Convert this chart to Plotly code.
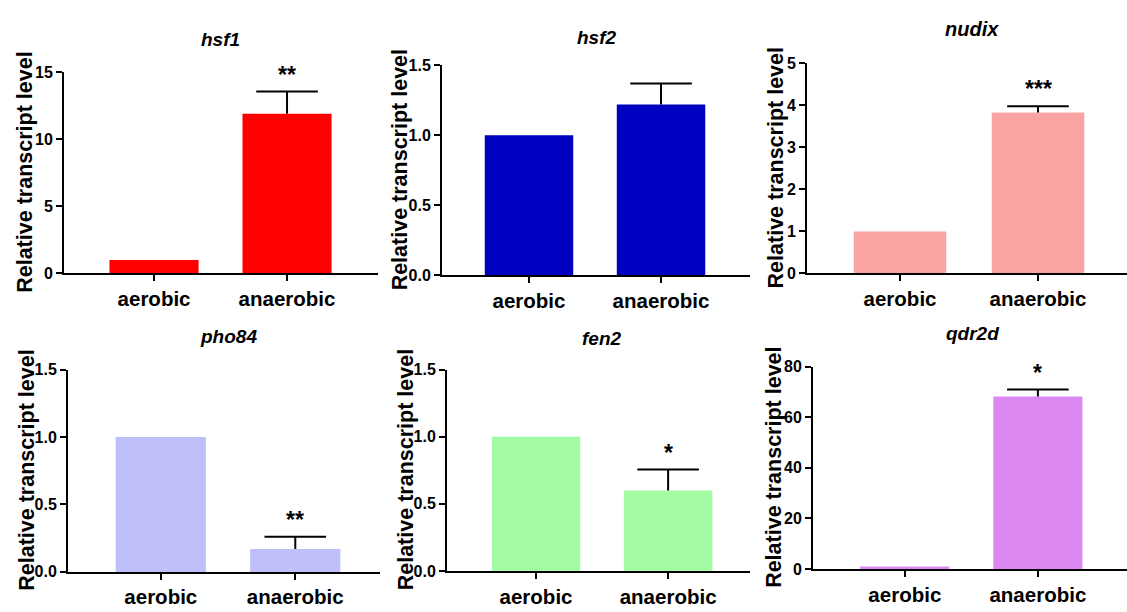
import plotly.graph_objects as go

W, H = 1127, 612

# ---------------- data ----------------
categories = ["aerobic", "anaerobic"]
genes = ["hsf1", "hsf2", "nudix", "pho84", "fen2", "qdr2d"]

hsf1_mean = [1.0, 11.9]
hsf1_err = [0.0, 1.65]
hsf2_mean = [1.0, 1.22]
hsf2_err = [0.0, 0.15]
nudix_mean = [1.0, 3.83]
nudix_err = [0.0, 0.15]
pho84_mean = [1.0, 0.17]
pho84_err = [0.0, 0.09]
fen2_mean = [1.0, 0.60]
fen2_err = [0.0, 0.155]
qdr2d_mean = [1.0, 68.2]
qdr2d_err = [0.0, 2.8]

significance = ["**", "", "***", "**", "*", "*"]

hsf1_ticks = [0, 5, 10, 15]
hsf2_ticks = [0, 0.5, 1.0, 1.5]
nudix_ticks = [0, 1, 2, 3, 4, 5]
pho84_ticks = [0, 0.5, 1.0, 1.5]
fen2_ticks = [0, 0.5, 1.0, 1.5]
qdr2d_ticks = [0, 20, 40, 60, 80]

means = [hsf1_mean, hsf2_mean, nudix_mean, pho84_mean, fen2_mean, qdr2d_mean]
errs = [hsf1_err, hsf2_err, nudix_err, pho84_err, fen2_err, qdr2d_err]
ticks = [hsf1_ticks, hsf2_ticks, nudix_ticks, pho84_ticks, fen2_ticks, qdr2d_ticks]
tickfmt = ["d", ".1f", "d", ".1f", ".1f", "d"]

# ---------------- styling / layout (pixels) ----------------
colors = ["#FF0000", "#0000C0", "#F9A3A3", "#BFBFFA", "#A3FCA3", "#DB88F2"]
# x0, x1, ytop, ybot
boxes = [
    (64, 378, 66, 273),
    (442, 750, 59, 275),
    (807, 1127, 57, 273),
    (68, 380, 372, 580),
    (447, 750, 372, 579),
    (813, 1127, 369, 577),
]
xranges = [
    (-0.677, 1.684),
    (-0.659, 1.674),
    (-0.674, 1.645),
    (-0.69, 1.63),
    (-0.674, 1.62),
    (-0.69, 1.67),
]
title_pos = [(220, 32), (597, 30), (972, 22), (228, 338), (602, 340), (972, 335)]
title_size = [19, 19, 20, 19, 19, 19]
ytitle_x = [25, 400, 776, 27, 406, 774]

FONT = "Arial, Liberation Sans, Helvetica, sans-serif"

fig = go.Figure()
annotations = []
layout = dict(
    width=W, height=H, autosize=False,
    margin=dict(l=0, r=0, t=0, b=0),
    paper_bgcolor="white", plot_bgcolor="white",
    showlegend=False,
    barmode="overlay",
    font=dict(family=FONT, color="black"),
)

for i, g in enumerate(genes):
    n = i + 1
    xs = "" if n == 1 else str(n)
    x0, x1, yt, yb = boxes[i]
    top = ticks[i][-1]

    fig.add_trace(go.Bar(
        x=categories, y=means[i], width=0.67,
        marker=dict(color=colors[i], line=dict(width=0)),
        xaxis="x" + xs, yaxis="y" + xs, hoverinfo="skip",
    ))
    # error bar: cap marker at mean+err, vertical line down to the bar top
    ex = [c for c, e in zip(categories, errs[i]) if e > 0]
    ey = [m + e for m, e in zip(means[i], errs[i]) if e > 0]
    ee = [e for e in errs[i] if e > 0]
    fig.add_trace(go.Scatter(
        x=ex, y=ey, mode="markers",
        marker=dict(symbol="line-ew-open", size=44,
                    line=dict(width=2, color="black"), color="black"),
        error_y=dict(type="data", symmetric=False, array=[0] * len(ee),
                     arrayminus=ee, color="black", thickness=2, width=0),
        xaxis="x" + xs, yaxis="y" + xs, hoverinfo="skip", cliponaxis=False,
    ))

    layout["xaxis" + xs] = dict(
        domain=[x0 / W, x1 / W], anchor="y" + xs, type="category",
        range=list(xranges[i]), showgrid=False, zeroline=False,
        showline=True, linecolor="black", linewidth=2,
        ticks="outside", ticklen=6, tickwidth=2, tickcolor="black",
        tickfont=dict(family=FONT, size=20.5, weight="bold", color="black"),
        fixedrange=True,
    )
    layout["yaxis" + xs] = dict(
        domain=[1 - yb / H, 1 - yt / H], anchor="x" + xs,
        range=[0, top], showgrid=False, zeroline=False,
        showline=True, linecolor="black", linewidth=2,
        ticks="outside", ticklen=6, tickwidth=2, tickcolor="black",
        tickmode="array", tickvals=ticks[i], tickformat=tickfmt[i],
        tickfont=dict(family=FONT, size=16, weight="bold", color="black"),
        fixedrange=True,
    )

    tx, ty = title_pos[i]
    annotations.append(dict(
        text=g, x=tx / W, y=1 - ty / H, xref="paper", yref="paper",
        xanchor="center", yanchor="middle", showarrow=False,
        font=dict(family=FONT, size=title_size[i], weight="bold",
                  style="italic", color="black"),
    ))
    annotations.append(dict(
        text="Relative transcript level", textangle=-90,
        x=ytitle_x[i] / W, y=1 - ((yt + yb) / 2) / H, xref="paper", yref="paper",
        xanchor="center", yanchor="middle", showarrow=False,
        font=dict(family=FONT, size=21.5, weight="bold", color="black"),
    ))
    if significance[i]:
        annotations.append(dict(
            text=significance[i], x=categories[1], y=means[i][1] + errs[i][1],
            xref="x" + xs, yref="y" + xs, xanchor="center", yanchor="bottom",
            yshift=2, showarrow=False,
            font=dict(family=FONT, size=23, weight="bold", color="black"),
        ))

layout["annotations"] = annotations
fig.update_layout(**layout)
fig.write_html("out.html",
               post_script="document.body.style.margin='0';document.body.style.overflow='hidden';")
